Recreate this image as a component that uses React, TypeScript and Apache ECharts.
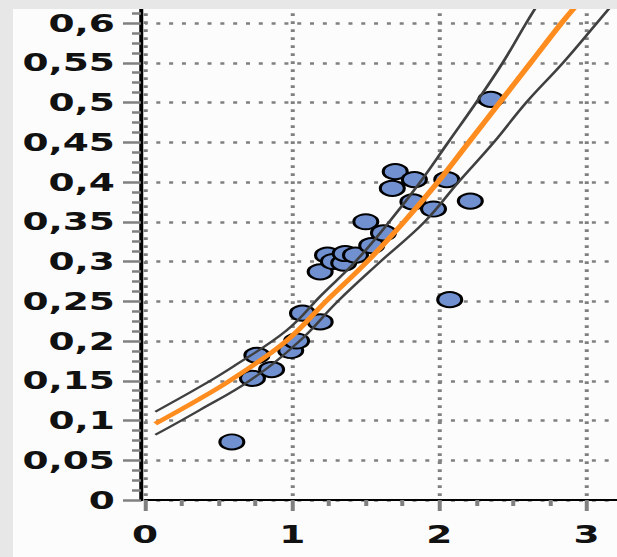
import React, { useEffect, useRef } from 'react';
import * as echarts from 'echarts';

// ---- data ----
const xTickValues = [0, 1, 2, 3];
const yTickStep = 0.05;

const scatterX = [0.59, 0.73, 0.76, 0.86, 0.99, 1.03, 1.07, 1.19, 1.19, 1.24, 1.28, 1.35, 1.36, 1.43, 1.5, 1.54, 1.62, 1.68, 1.7, 1.82, 1.83, 1.96, 2.05, 2.07, 2.21, 2.35];
const scatterY = [0.073, 0.153, 0.182, 0.164, 0.188, 0.2, 0.235, 0.224, 0.287, 0.308, 0.3, 0.298, 0.31, 0.308, 0.35, 0.32, 0.336, 0.392, 0.413, 0.375, 0.403, 0.366, 0.403, 0.252, 0.376, 0.504];

const fitX = [0.07, 0.37, 0.6, 0.96, 1.23, 1.51, 1.76, 1.99, 2.2, 2.41, 2.62, 2.83, 2.94];
const fitY = [0.096, 0.127, 0.153, 0.2, 0.25, 0.3, 0.35, 0.4, 0.45, 0.5, 0.55, 0.6, 0.624];

const upperX = [0.07, 0.37, 0.6, 0.96, 1.2, 1.43, 1.66, 1.87, 2.06, 2.25, 2.43, 2.59, 2.67];
const upperY = [0.111, 0.142, 0.168, 0.213, 0.258, 0.3, 0.35, 0.4, 0.45, 0.5, 0.55, 0.6, 0.624];

const lowerX = [0.07, 0.37, 0.71, 1.05, 1.31, 1.6, 1.9, 2.13, 2.37, 2.59, 2.84, 3.07, 3.17];
const lowerY = [0.082, 0.113, 0.15, 0.2, 0.25, 0.3, 0.35, 0.4, 0.45, 0.5, 0.55, 0.6, 0.622];

// ---- layout ----
const STRETCH = 1.5;
const PAGE_W = 617;
const PAGE_H = 557;
const PANEL_LEFT = 13;
const PANEL_TOP = 9;
const CHART_W = (PAGE_W - PANEL_LEFT) / STRETCH;
const CHART_H = PAGE_H - PANEL_TOP;
const X_UNIT = 147.2 / STRETCH; // chart px per x unit
const Y_UNIT = 795; // px per y unit
const X_MAX = 4;
const Y_MAX = 0.65;
const GRID_LEFT = 88;
const ZERO_Y = 491;

const zip = (xs: number[], ys: number[]) => xs.map((x, i) => [x, ys[i]]);

const labelFont = {
  fontFamily: 'DejaVu Sans',
  fontWeight: 'bold' as const,
  fontSize: 25,
  color: '#111',
};

export default function App() {
  const ref = useRef<HTMLDivElement>(null);
  useEffect(() => {
    if (!ref.current) return;
    const chart = echarts.init(ref.current, undefined, {
      renderer: 'svg',
      width: CHART_W,
      height: CHART_H,
    });
    const gridH = Y_MAX * Y_UNIT;
    const curve = (xs: number[], ys: number[], color: string, width: number) => ({
      type: 'line',
      data: zip(xs, ys),
      smooth: 0.4,
      showSymbol: false,
      lineStyle: { color, width },
    });
    chart.setOption({
      animation: false,
      backgroundColor: '#fcfcfc',
      grid: {
        left: GRID_LEFT,
        top: ZERO_Y - gridH,
        width: X_MAX * X_UNIT,
        height: gridH,
        containLabel: false,
        outerBoundsMode: 'none',
      },
      xAxis: {
        type: 'value',
        min: 0,
        max: X_MAX,
        interval: 1,
        axisLine: { show: true, onZero: false, lineStyle: { color: '#000', width: 2 } },
        axisTick: { show: true, length: 11, lineStyle: { color: '#808080', width: 2.67 } },
        minorTick: { show: true, splitNumber: 4, length: 6, lineStyle: { color: '#808080', width: 2.67 } },
        splitLine: {
          show: true,
          lineStyle: { color: '#808080', width: 2.67, type: [2.67, 5.33], dashOffset: 1.9 },
        },
        axisLabel: {
          ...labelFont,
          margin: 22,
          formatter: (v: number) => (xTickValues.includes(v) ? String(v) : ''),
        },
      },
      yAxis: {
        type: 'value',
        min: 0,
        max: Y_MAX,
        interval: yTickStep,
        offset: 2.67,
        axisLine: { show: true, onZero: false, lineStyle: { color: '#000', width: 2.67 } },
        axisTick: { show: true, length: 12, lineStyle: { color: '#808080', width: 2.5 } },
        minorTick: { show: true, splitNumber: 4, length: 6, lineStyle: { color: '#808080', width: 2.5 } },
        splitLine: {
          show: true,
          lineStyle: { color: '#808080', width: 2.5, type: [2.67, 5.87], dashOffset: 1.2 },
        },
        axisLabel: {
          ...labelFont,
          margin: 17.4,
          formatter: (v: number) => {
            const r = Math.round(v / yTickStep);
            if (Math.abs(v / yTickStep - r) > 1e-6) return '';
            if (r * yTickStep > 0.61) return '';
            return String(+(r * yTickStep).toFixed(2)).replace('.', ',');
          },
        },
      },
      series: [
        {
          type: 'scatter',
          data: zip(scatterX, scatterY),
          symbol: 'circle',
          symbolSize: [16, 15],
          itemStyle: { color: '#7090d0', borderColor: '#000', borderWidth: 2, opacity: 1 },
        },
        curve(upperX, upperY, '#404040', 2),
        curve(lowerX, lowerY, '#404040', 2),
        curve(fitX, fitY, '#ff8c1e', 4),
      ],
    });
    return () => chart.dispose();
  }, []);

  return (
    <div
      style={{
        position: 'fixed',
        left: 0,
        top: 0,
        width: PAGE_W,
        height: PAGE_H,
        background: '#e7e7e7',
        overflow: 'hidden',
      }}
    >
      <div
        ref={ref}
        style={{
          position: 'absolute',
          left: PANEL_LEFT,
          top: PANEL_TOP,
          width: CHART_W,
          height: CHART_H,
          transform: `scaleX(${STRETCH})`,
          transformOrigin: '0 0',
        }}
      />
    </div>
  );
}
